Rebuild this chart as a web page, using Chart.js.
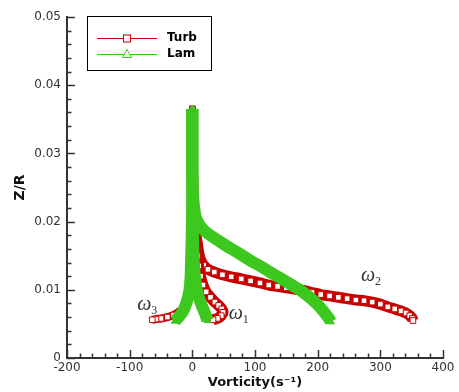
<!DOCTYPE html>
<html>
<head>
<meta charset="utf-8">
<script src="https://cdn.jsdelivr.net/npm/chart.js@4.4.1/dist/chart.umd.min.js"></script>
<style>
	html, body { margin: 0; padding: 0; background: #fff; }
</style>
</head>
<body>
<canvas id="chart" width="459" height="392"></canvas>
<script>
// **DATOS**
const xTicks = [-200, -100, 0, 100, 200, 300, 400];
const yTicks = [0, 0.01, 0.02, 0.03, 0.04, 0.05];
const seriesNames = ['Turb', 'Lam'];

// Turb (rojo)
const turbW1X = [0, 0, 1, 3, 6, 8, 10, 13, 17, 22, 29, 36, 42, 47, 49, 46, 40, 33];
const turbW1Z = [0.0365, 0.030, 0.024, 0.019, 0.0165, 0.0150, 0.0135, 0.0120, 0.0107, 0.0097, 0.0089, 0.0082, 0.0077, 0.0072, 0.0067, 0.0062, 0.0058, 0.0056];

const turbW2X = [0, 0, 1, 4, 8, 10, 13, 18, 25, 35, 48, 62, 78, 93, 108, 122, 136, 150, 163, 177, 191, 205, 219, 233, 247, 261, 274, 287, 300, 312, 323, 333, 341, 347, 351, 352];
const turbW2Z = [0.0365, 0.030, 0.024, 0.019, 0.0168, 0.0155, 0.0144, 0.0136, 0.0130, 0.0126, 0.0122, 0.0119, 0.0116, 0.0113, 0.0110, 0.0107, 0.0105, 0.0103, 0.0101, 0.0099, 0.0096, 0.0093, 0.0091, 0.0089, 0.0087, 0.0085, 0.0084, 0.0082, 0.0079, 0.0075, 0.0072, 0.0069, 0.0066, 0.0062, 0.0058, 0.0055];

const turbW3X = [0, 0, -1, -2, -3, -4, -6, -9, -14, -21, -30, -40, -50, -58, -64];
const turbW3Z = [0.0365, 0.030, 0.024, 0.019, 0.015, 0.012, 0.0098, 0.0085, 0.0075, 0.0068, 0.0063, 0.0060, 0.0058, 0.0057, 0.0056];

// Lam (verde)
const lamW1X = [0, 0, 0, 1, 2, 4, 7, 11, 15, 19, 22, 24];
const lamW1Z = [0.0365, 0.030, 0.024, 0.018, 0.0145, 0.0120, 0.0100, 0.0087, 0.0077, 0.0068, 0.0061, 0.0055];

const lamW2X = [0, 0, 0, 0, 1, 3, 6, 12, 20, 30, 42, 55, 68, 82, 96, 110, 124, 137, 150, 162, 173, 183, 192, 200, 207, 213, 218, 221];
const lamW2Z = [0.0365, 0.033, 0.030, 0.027, 0.024, 0.0220, 0.0205, 0.0194, 0.0186, 0.0179, 0.0172, 0.0164, 0.0157, 0.0149, 0.0141, 0.0134, 0.0126, 0.0119, 0.0112, 0.0105, 0.0099, 0.0092, 0.0085, 0.0078, 0.0071, 0.0064, 0.0058, 0.0053];

const lamW3X = [0, 0, 0, -1, -2, -3, -5, -9, -14, -20, -25, -28];
const lamW3Z = [0.0365, 0.030, 0.024, 0.018, 0.0140, 0.0115, 0.0097, 0.0082, 0.0070, 0.0062, 0.0057, 0.0054];

// Etiquetas de las curvas
const annoSub = ['1', '2', '3'];
const annoX = [58, 269, -88];
const annoZ = [0.0057, 0.0113, 0.0070];

// **ESTILOS**
const RED = '#c80000';
const GREEN = '#3cc81e';
const TICK_FONT = { family: '"DejaVu Sans"', size: 12 };

/**
 * Une dos listas en puntos {x, y}.
 */
function pts(xs, zs) {
	return xs.map((x, i) => ({ x, y: zs[i] }));
}

function turbSet(xs, zs, width) {
	return {
		label: seriesNames[0],
		data: pts(xs, zs),
		showLine: true,
		borderColor: RED,
		borderWidth: width,
		borderJoinStyle: 'round',
		tension: 0.3,
		pointStyle: 'rect',
		pointRadius: 4,
		pointBackgroundColor: '#fff',
		pointBorderColor: RED,
		pointBorderWidth: 1,
	};
}

function lamSet(xs, zs) {
	return {
		label: seriesNames[1],
		data: pts(xs, zs),
		showLine: true,
		borderColor: GREEN,
		borderWidth: 12,
		borderJoinStyle: 'round',
		tension: 0.3,
		pointStyle: 'triangle',
		pointRadius: 4,
		pointBackgroundColor: GREEN,
		pointBorderColor: GREEN,
		pointBorderWidth: 1,
	};
}

// **DECORACIÓN** (marcas hacia dentro, leyenda, etiquetas ω)
const decorPlugin = {
	id: 'decor',
	afterDraw(chart) {
		const { ctx, chartArea: a, scales: { x, y } } = chart;
		ctx.save();
		ctx.strokeStyle = '#333';
		ctx.lineWidth = 1.5;
		for (let i = 0; i <= 30; i++) {
			const v = -200 + i * 20;
			const px = Math.round(x.getPixelForValue(v)) + 0.5;
			const len = i % 5 === 0 ? 8 : 4.5;
			ctx.beginPath();
			ctx.moveTo(px, a.bottom);
			ctx.lineTo(px, a.bottom - len);
			ctx.stroke();
		}
		for (let i = 0; i <= 25; i++) {
			const py = Math.round(y.getPixelForValue(i * 0.002)) + 0.5;
			const len = i % 5 === 0 ? 8 : 4.5;
			ctx.beginPath();
			ctx.moveTo(a.left, py);
			ctx.lineTo(a.left + len, py);
			ctx.stroke();
		}

		// Leyenda
		ctx.fillStyle = '#fff';
		ctx.fillRect(87.5, 16.5, 124, 54);
		ctx.strokeStyle = '#000';
		ctx.lineWidth = 1;
		ctx.strokeRect(87.5, 16.5, 124, 54);

		ctx.strokeStyle = RED;
		ctx.beginPath(); ctx.moveTo(97, 38.5); ctx.lineTo(157, 38.5); ctx.stroke();
		ctx.fillStyle = '#fff';
		ctx.fillRect(123.5, 35, 7, 7);
		ctx.strokeRect(123.5, 35, 7, 7);

		ctx.strokeStyle = GREEN;
		ctx.beginPath(); ctx.moveTo(97, 54.5); ctx.lineTo(157, 54.5); ctx.stroke();
		ctx.beginPath();
		ctx.moveTo(127, 49.5); ctx.lineTo(131.5, 57.5); ctx.lineTo(122.5, 57.5); ctx.closePath();
		ctx.fill(); ctx.stroke();

		ctx.fillStyle = '#000';
		ctx.font = 'bold 12px "DejaVu Sans"';
		ctx.textBaseline = 'middle';
		ctx.fillText(seriesNames[0], 167, 38);
		ctx.fillText(seriesNames[1], 167, 54);

		// Etiquetas ω
		ctx.fillStyle = '#333';
		ctx.textBaseline = 'alphabetic';
		annoSub.forEach((s, i) => {
			const px = x.getPixelForValue(annoX[i]);
			const py = y.getPixelForValue(annoZ[i]);
			ctx.font = 'italic 20px "Liberation Serif"';
			ctx.fillText('ω', px, py);
			const w = ctx.measureText('ω').width;
			ctx.font = '12px "Liberation Serif"';
			ctx.fillText(s, px + w, py + 4);
		});
		ctx.restore();
	}
};

// **GRÁFICO**
function init() {
	new Chart(document.getElementById('chart'), {
		type: 'scatter',
		data: {
			datasets: [
				lamSet(lamW3X, lamW3Z),
				lamSet(lamW1X, lamW1Z),
				lamSet(lamW2X, lamW2Z),
				turbSet(turbW3X, turbW3Z, 8),
				turbSet(turbW1X, turbW1Z, 11),
				turbSet(turbW2X, turbW2Z, 11),
			],
		},
		options: {
			responsive: false,
			animation: false,
			events: [],
			layout: { padding: { left: 0, right: 16, top: 17, bottom: 0 } },
			plugins: { legend: { display: false }, tooltip: { enabled: false } },
			scales: {
				x: {
					type: 'linear',
					min: -200,
					max: 400,
					afterBuildTicks: s => { s.ticks = xTicks.map(v => ({ value: v })); },
					afterFit: s => { s.height = 34; },
					ticks: { font: TICK_FONT, color: '#333', padding: 3, maxRotation: 0 },
					grid: { display: false, drawTicks: false },
					border: { display: true, color: '#333', width: 2 },
					title: {
						display: true,
						text: 'Vorticity(s⁻¹)',
						color: '#111',
						font: { family: '"DejaVu Sans"', size: 13, weight: 'bold' },
						padding: { top: 0, bottom: 2 },
					},
				},
				y: {
					min: 0,
					max: 0.05,
					afterBuildTicks: s => { s.ticks = yTicks.map(v => ({ value: v })); },
					afterFit: s => { s.width = 67; },
					ticks: {
						font: TICK_FONT,
						color: '#333',
						padding: 6,
						callback: v => (v === 0 ? '0' : v.toFixed(2)),
					},
					grid: { display: false, drawTicks: false },
					border: { display: true, color: '#333', width: 2 },
					title: {
						display: true,
						text: 'Z/R',
						color: '#111',
						font: { family: '"DejaVu Sans"', size: 14, weight: 'bold' },
						padding: { top: 12, bottom: 0 },
					},
				},
			},
		},
		plugins: [decorPlugin],
	});
}

document.addEventListener('DOMContentLoaded', init);
</script>
</body>
</html>
